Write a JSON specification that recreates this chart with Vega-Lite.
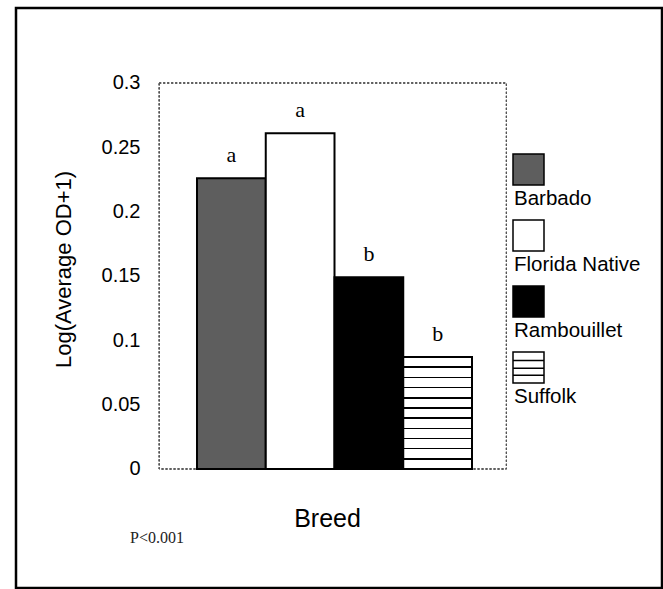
{
  "$schema": "https://vega.github.io/schema/vega-lite/v6.json",
  "autosize": {"type": "none"},
  "padding": {"left": 16, "top": 8, "right": 1, "bottom": 1},
  "width": 646,
  "height": 580,
  "background": "white",
  "title": {
    "text": "P<0.001",
    "orient": "bottom",
    "anchor": "start",
    "frame": "group",
    "font": "Liberation Serif",
    "fontSize": 16,
    "fontWeight": "normal",
    "color": "#222222",
    "baseline": "middle",
    "offset": -50,
    "dx": 114
  },
  "config": {
    "view": {"stroke": "black", "strokeWidth": 2.5},
    "font": "Liberation Sans"
  },
  "data": {
    "values": [
      {"breed": "Barbado", "value": 0.226, "group": "a"},
      {"breed": "Florida Native", "value": 0.261, "group": "a"},
      {"breed": "Rambouillet", "value": 0.149, "group": "b"},
      {"breed": "Suffolk", "value": 0.087, "group": "b"}
    ]
  },
  "encoding": {
    "x": {
      "field": "breed",
      "type": "nominal",
      "sort": null,
      "scale": {
        "type": "band",
        "domain": ["Barbado", "Florida Native", "Rambouillet", "Suffolk"],
        "range": [181, 456],
        "paddingInner": 0,
        "paddingOuter": 0
      },
      "axis": {
        "labels": false,
        "ticks": false,
        "domain": false,
        "grid": false,
        "title": "Breed",
        "titleFont": "Liberation Sans",
        "titleFontSize": 25,
        "titleFontWeight": "normal",
        "titleColor": "black",
        "titleX": 311,
        "titleY": -70,
        "titleBaseline": "middle",
        "titleAlign": "center"
      }
    },
    "y": {
      "field": "value",
      "type": "quantitative",
      "scale": {"domain": [-0.09249, 0.35829], "nice": false, "zero": false},
      "axis": {
        "offset": -144,
        "values": [0, 0.05, 0.1, 0.15, 0.2, 0.25, 0.3],
        "format": "~g",
        "labelFont": "Liberation Sans",
        "labelFontSize": 20,
        "labelColor": "black",
        "ticks": false,
        "tickSize": 0,
        "labelPadding": 20,
        "domain": false,
        "grid": false,
        "title": "Log(Average OD+1)",
        "titleFont": "Liberation Sans",
        "titleFontSize": 22,
        "titleFontWeight": "normal",
        "titleColor": "black",
        "titleAngle": -90,
        "titleX": -97,
        "titleY": 261,
        "titleBaseline": "middle",
        "titleAlign": "center"
      }
    }
  },
  "layer": [
    {
      "mark": {"type": "rect", "fill": null, "stroke": "#555555", "strokeWidth": 1, "strokeDash": [2, 2]},
      "encoding": {
        "x": {"datum": "Barbado", "bandPosition": -0.55},
        "x2": {"datum": "Suffolk", "bandPosition": 1.5},
        "y": {"datum": 0},
        "y2": {"datum": 0.3}
      }
    },
    {
      "mark": {"type": "bar", "stroke": "black", "strokeWidth": 2},
      "encoding": {
        "fill": {
          "field": "breed",
          "type": "nominal",
          "sort": null,
          "scale": {
            "domain": ["Barbado", "Florida Native", "Rambouillet", "Suffolk"],
            "range": ["#5e5e5e", "white", "black", "white"]
          },
          "condition": {
            "test": "datum.breed === 'Suffolk'",
            "value": {
              "gradient": "linear", "x1": 0, "y1": 0, "x2": 0, "y2": 1,
              "stops": [
                {"offset": 0, "color": "white"},
                {"offset": 0.084, "color": "white"}, {"offset": 0.084, "color": "black"}, {"offset": 0.098, "color": "black"}, {"offset": 0.098, "color": "white"},
                {"offset": 0.175, "color": "white"}, {"offset": 0.175, "color": "black"}, {"offset": 0.189, "color": "black"}, {"offset": 0.189, "color": "white"},
                {"offset": 0.266, "color": "white"}, {"offset": 0.266, "color": "black"}, {"offset": 0.280, "color": "black"}, {"offset": 0.280, "color": "white"},
                {"offset": 0.357, "color": "white"}, {"offset": 0.357, "color": "black"}, {"offset": 0.371, "color": "black"}, {"offset": 0.371, "color": "white"},
                {"offset": 0.448, "color": "white"}, {"offset": 0.448, "color": "black"}, {"offset": 0.462, "color": "black"}, {"offset": 0.462, "color": "white"},
                {"offset": 0.539, "color": "white"}, {"offset": 0.539, "color": "black"}, {"offset": 0.553, "color": "black"}, {"offset": 0.553, "color": "white"},
                {"offset": 0.630, "color": "white"}, {"offset": 0.630, "color": "black"}, {"offset": 0.644, "color": "black"}, {"offset": 0.644, "color": "white"},
                {"offset": 0.720, "color": "white"}, {"offset": 0.720, "color": "black"}, {"offset": 0.734, "color": "black"}, {"offset": 0.734, "color": "white"},
                {"offset": 0.811, "color": "white"}, {"offset": 0.811, "color": "black"}, {"offset": 0.825, "color": "black"}, {"offset": 0.825, "color": "white"},
                {"offset": 0.902, "color": "white"}, {"offset": 0.902, "color": "black"}, {"offset": 0.916, "color": "black"}, {"offset": 0.916, "color": "white"},
                {"offset": 1, "color": "white"}
              ]
            }
          },
          "legend": {
            "orient": "none",
            "legendX": 496,
            "legendY": 145,
            "title": null,
            "padding": 0,
            "symbolType": "square",
            "symbolSize": 961,
            "symbolStrokeColor": "black",
            "symbolStrokeWidth": 1.5,
            "labelFont": "Liberation Sans",
            "labelFontSize": 20.5,
            "labelColor": "black",
            "labelOffset": -31,
            "rowPadding": 8,
            "encode": {
              "labels": {"update": {"dy": {"value": 29}}},
              "symbols": {
                "update": {
                  "stroke": {"value": "black"},
                  "strokeWidth": {"value": 1.5},
                  "shape": {
                    "signal": "datum.value === 'Suffolk' ? 'M-1,-1H1V1H-1Z M-1,-0.45H1 M-1,0.05H1 M-1,0.5H1' : 'square'"
                  }
                }
              }
            }
          }
        }
      }
    },
    {
      "mark": {"type": "text", "font": "Liberation Serif", "fontSize": 22, "baseline": "alphabetic", "dy": -16, "color": "black"},
      "encoding": {
        "text": {"field": "group"}
      }
    }
  ]
}
